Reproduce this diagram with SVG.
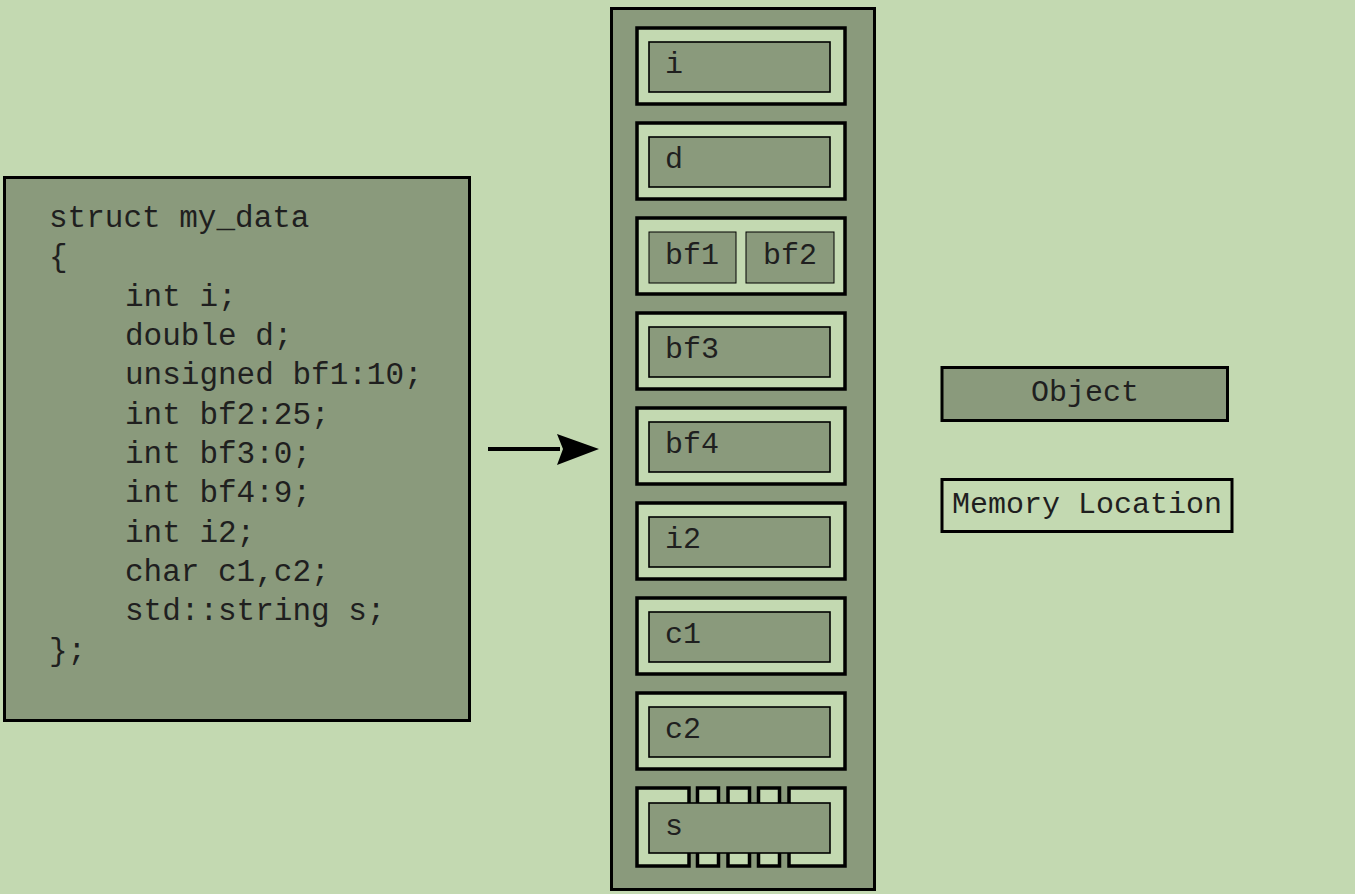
<svg xmlns="http://www.w3.org/2000/svg" width="1355" height="894" viewBox="0 0 1355 894">
<defs>
<style>
.bg{fill:#c3d9b1}
.obj{fill:#8a9a7c;stroke:#000;stroke-width:1.6}
.loc{fill:#c3d9b1;stroke:#000;stroke-width:3.5}
.big{fill:#8a9a7c;stroke:#000;stroke-width:3}
text{font-family:"Liberation Mono","Courier New",monospace;font-size:30px;fill:#1f1f1f}
.code{font-size:31px}
</style>
</defs>
<rect class="bg" x="0" y="0" width="1355" height="894"/>
<g id="code">
<rect class="big" x="4.5" y="177.5" width="465" height="543"/>
<text class="code" x="49" y="227" xml:space="preserve">struct my_data</text>
<text class="code" x="49" y="266" xml:space="preserve">{</text>
<text class="code" x="125" y="306" xml:space="preserve">int i;</text>
<text class="code" x="125" y="345" xml:space="preserve">double d;</text>
<text class="code" x="125" y="384" xml:space="preserve">unsigned bf1:10;</text>
<text class="code" x="125" y="424" xml:space="preserve">int bf2:25;</text>
<text class="code" x="125" y="463" xml:space="preserve">int bf3:0;</text>
<text class="code" x="125" y="502" xml:space="preserve">int bf4:9;</text>
<text class="code" x="125" y="542" xml:space="preserve">int i2;</text>
<text class="code" x="125" y="581" xml:space="preserve">char c1,c2;</text>
<text class="code" x="125" y="620" xml:space="preserve">std::string s;</text>
<text class="code" x="49" y="660" xml:space="preserve">};</text>
</g>
<g id="connectors">
<line x1="488" y1="449" x2="560" y2="449" stroke="#000" stroke-width="4"/>
<path d="M557,434 L599,449 L557,465 L563,449 Z" fill="#000"/>
</g>
<g id="memory">
<rect class="big" x="611.5" y="8.5" width="263" height="881"/>
<g id="loc-i"><rect class="loc" x="637" y="28" width="208" height="76"/><rect class="obj" x="649" y="42" width="181" height="50"/><text x="665" y="73">i</text></g>
<g id="loc-d"><rect class="loc" x="637" y="123" width="208" height="76"/><rect class="obj" x="649" y="137" width="181" height="50"/><text x="665" y="168">d</text></g>
<g id="loc-bf12"><rect class="loc" x="637" y="218" width="208" height="76"/><rect class="obj" x="649" y="232" width="87" height="51" style="stroke-width:1"/><text x="665" y="264">bf1</text><rect class="obj" x="746" y="232" width="88" height="51" style="stroke-width:1"/><text x="763" y="264">bf2</text></g>
<g id="loc-bf3"><rect class="loc" x="637" y="313" width="208" height="76"/><rect class="obj" x="649" y="327" width="181" height="50"/><text x="665" y="358">bf3</text></g>
<g id="loc-bf4"><rect class="loc" x="637" y="408" width="208" height="76"/><rect class="obj" x="649" y="422" width="181" height="50"/><text x="665" y="453">bf4</text></g>
<g id="loc-i2"><rect class="loc" x="637" y="503" width="208" height="76"/><rect class="obj" x="649" y="517" width="181" height="50"/><text x="665" y="548">i2</text></g>
<g id="loc-c1"><rect class="loc" x="637" y="598" width="208" height="76"/><rect class="obj" x="649" y="612" width="181" height="50"/><text x="665" y="643">c1</text></g>
<g id="loc-c2"><rect class="loc" x="637" y="693" width="208" height="76"/><rect class="obj" x="649" y="707" width="181" height="50"/><text x="665" y="738">c2</text></g>
<g id="loc-s">
<rect class="loc" x="637" y="788" width="52" height="78"/>
<rect class="loc" x="697.5" y="788" width="21" height="78"/>
<rect class="loc" x="728" y="788" width="21.5" height="78"/>
<rect class="loc" x="758.5" y="788" width="21" height="78"/>
<rect class="loc" x="789" y="788" width="56" height="78"/>
<rect class="obj" x="649" y="803" width="181" height="50"/><text x="665" y="835">s</text>
</g>
</g>
<g id="legend-object"><rect class="big" x="942" y="367.5" width="285.5" height="53"/><text x="1085" y="401" text-anchor="middle">Object</text></g>
<g id="legend-location"><rect class="loc" x="942" y="479.5" width="290" height="52" style="stroke-width:3"/><text x="1087" y="513" text-anchor="middle">Memory Location</text></g>
</svg>
